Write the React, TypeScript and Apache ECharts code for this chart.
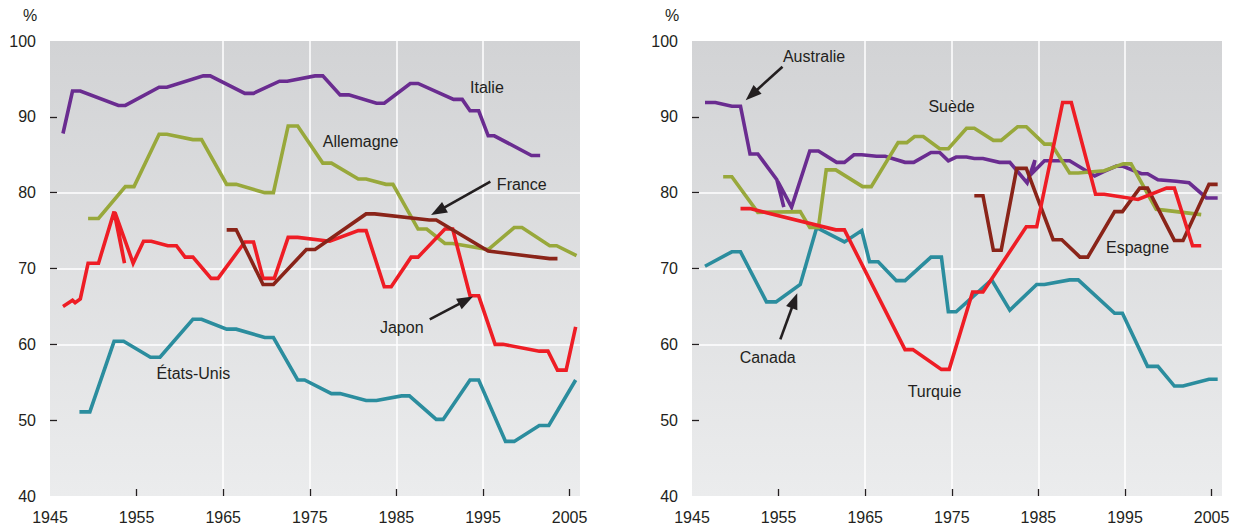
import React, { useEffect, useRef } from "react";
import * as echarts from "echarts";

// ---------- data ----------
const xLabelValues = [1945, 1955, 1965, 1975, 1985, 1995, 2005];
const xTickValues = [1955, 1965, 1975, 1985, 1995, 2005];
const yTickValues = [50, 60, 70, 80, 90];

// left panel
const italie = [[1946.5,87.8],[1947.6,93.4],[1948.5,93.4],[1952.9,91.5],[1953.7,91.5],[1957.6,93.9],[1958.5,93.9],[1962.7,95.4],[1963.5,95.4],[1967.5,93.1],[1968.5,93.1],[1971.5,94.7],[1972.4,94.7],[1975.6,95.4],[1976.5,95.4],[1978.5,92.9],[1979.5,92.9],[1982.7,91.8],[1983.6,91.8],[1986.6,94.4],[1987.5,94.4],[1991.6,92.3],[1992.6,92.3],[1993.5,90.8],[1994.5,90.8],[1995.6,87.5],[1996.3,87.5],[2000.6,84.9],[2001.6,84.9]];
const allemagne = [[1949.4,76.6],[1950.6,76.6],[1953.7,80.8],[1954.7,80.8],[1957.6,87.7],[1958.5,87.7],[1961.5,87.0],[1962.5,87.0],[1965.4,81.1],[1966.5,81.1],[1969.8,80.0],[1970.8,80.0],[1972.5,88.8],[1973.6,88.8],[1976.5,83.9],[1977.5,83.9],[1980.6,81.8],[1981.5,81.8],[1983.8,81.1],[1984.6,81.1],[1987.5,75.2],[1988.5,75.2],[1990.6,73.3],[1991.5,73.3],[1995.6,72.5],[1998.6,75.4],[1999.5,75.4],[2002.7,73.0],[2003.5,73.0],[2005.8,71.7]];
const france = [[1965.4,75.1],[1966.5,75.1],[1969.6,67.9],[1970.8,67.9],[1974.6,72.5],[1975.6,72.5],[1981.5,77.2],[1982.5,77.2],[1988.8,76.4],[1989.6,76.4],[1995.6,72.3],[2002.7,71.3],[2003.6,71.3]];
const japon = [[1946.5,65.0],[1947.6,65.8],[1947.9,65.5],[1948.5,66.0],[1949.4,70.7],[1950.6,70.7],[1952.4,77.5],[1953.6,70.7],[1952.5,77.4],[1954.6,70.7],[1955.8,73.6],[1956.7,73.6],[1958.6,73.0],[1959.6,73.0],[1960.6,71.5],[1961.5,71.5],[1963.6,68.7],[1964.4,68.7],[1967.5,73.5],[1968.5,73.5],[1969.6,68.7],[1970.9,68.7],[1972.5,74.1],[1973.6,74.1],[1977.3,73.6],[1980.6,75.0],[1981.5,75.0],[1983.6,67.6],[1984.4,67.6],[1986.7,71.5],[1987.5,71.5],[1990.6,75.2],[1991.5,75.2],[1993.5,66.4],[1994.5,66.4],[1996.4,60.0],[1997.3,60.0],[2001.5,59.1],[2002.5,59.1],[2003.6,56.6],[2004.6,56.6],[2005.7,62.3]];
const etatsUnis = [[1948.4,51.1],[1949.6,51.1],[1952.4,60.4],[1953.5,60.4],[1956.6,58.3],[1957.7,58.3],[1961.5,63.3],[1962.5,63.3],[1965.4,62.0],[1966.5,62.0],[1969.8,60.9],[1970.8,60.9],[1973.6,55.3],[1974.4,55.3],[1977.5,53.5],[1978.5,53.5],[1981.5,52.6],[1982.7,52.6],[1985.6,53.2],[1986.5,53.2],[1989.6,50.1],[1990.4,50.1],[1993.5,55.3],[1994.5,55.3],[1997.6,47.2],[1998.6,47.2],[2001.5,49.3],[2002.6,49.3],[2005.7,55.3]];

// right panel
const australie = [[1946.5,91.9],[1947.7,91.9],[1949.6,91.4],[1950.6,91.4],[1951.7,85.1],[1952.6,85.1],[1954.8,81.7],[1955.6,78.1],[1954.9,81.5],[1956.5,78.1],[1958.6,85.5],[1959.6,85.5],[1961.7,84.0],[1962.6,84.0],[1963.7,85.0],[1964.6,85.0],[1966.3,84.8],[1967.3,84.8],[1969.6,84.0],[1970.6,84.0],[1972.6,85.3],[1973.6,85.3],[1974.6,84.2],[1975.5,84.7],[1976.7,84.7],[1977.6,84.5],[1978.6,84.5],[1980.5,84.0],[1981.7,84.0],[1983.7,81.3],[1984.6,84.3],[1984.3,82.6],[1985.7,84.2],[1988.6,84.2],[1991.5,82.2],[1992.6,82.8],[1994.0,83.5],[1994.7,83.5],[1996.9,82.5],[1997.6,82.5],[1998.8,81.7],[2000.9,81.5],[2002.4,81.3],[2004.4,79.3],[2005.7,79.3]];
const suede = [[1948.6,82.1],[1949.6,82.1],[1952.6,77.4],[1957.5,77.5],[1958.6,75.4],[1959.6,75.4],[1960.5,83.0],[1961.6,83.0],[1964.7,80.8],[1965.7,80.8],[1968.8,86.6],[1969.8,86.6],[1970.7,87.4],[1971.7,87.4],[1973.6,85.8],[1974.6,85.8],[1976.7,88.5],[1977.6,88.5],[1979.8,86.9],[1980.7,86.9],[1982.6,88.7],[1983.6,88.7],[1985.7,86.4],[1986.5,86.4],[1988.6,82.6],[1989.6,82.6],[1992.6,82.9],[1993.8,83.4],[1994.8,83.8],[1995.7,83.8],[1998.6,77.8],[1999.5,77.7],[2003.8,77.1]];
const espagne = [[1977.6,79.6],[1978.6,79.6],[1979.8,72.4],[1980.7,72.4],[1982.5,83.2],[1983.6,83.2],[1986.7,73.8],[1987.7,73.8],[1989.8,71.5],[1990.7,71.5],[1993.8,77.5],[1994.7,77.5],[1996.7,80.6],[1997.6,80.6],[2000.7,73.7],[2001.7,73.7],[2004.7,81.1],[2005.7,81.1]];
const turquie = [[1950.6,77.9],[1951.7,77.9],[1961.6,75.1],[1962.6,75.1],[1969.6,59.3],[1970.5,59.3],[1973.8,56.7],[1974.7,56.7],[1977.4,66.9],[1978.6,66.9],[1983.6,75.5],[1984.8,75.5],[1987.8,91.9],[1988.8,91.9],[1991.6,79.8],[1992.6,79.8],[1996.5,79.1],[1999.8,80.6],[2000.7,80.6],[2002.8,73.0],[2003.8,73.0]];
const canada = [[1946.5,70.3],[1949.6,72.2],[1950.6,72.2],[1953.6,65.6],[1954.7,65.6],[1957.5,67.9],[1959.4,75.4],[1962.6,73.5],[1964.6,75.0],[1965.5,70.9],[1966.5,70.9],[1968.6,68.4],[1969.6,68.4],[1972.6,71.5],[1973.8,71.5],[1974.6,64.3],[1975.5,64.3],[1979.6,68.5],[1981.7,64.5],[1984.8,67.9],[1985.7,67.9],[1988.6,68.5],[1989.6,68.5],[1993.8,64.1],[1994.7,64.1],[1997.6,57.1],[1998.8,57.1],[2000.7,54.5],[2001.7,54.5],[2004.7,55.4],[2005.7,55.4]];

// ---------- styles ----------
const PURPLE = "#6a2c90";
const OLIVE = "#98a83b";
const BROWN = "#8a2419";
const RED = "#ee1d25";
const TEAL = "#2b8d9e";
const TEXT = "#231f20";
const FONT = "'Liberation Sans', Arial, sans-serif";

const panels = [
  [
    { name: "Italie", data: italie, color: PURPLE },
    { name: "Allemagne", data: allemagne, color: OLIVE },
    { name: "États-Unis", data: etatsUnis, color: TEAL },
    { name: "Japon", data: japon, color: RED },
    { name: "France", data: france, color: BROWN },
  ],
  [
    { name: "Canada", data: canada, color: TEAL },
    { name: "Australie", data: australie, color: PURPLE },
    { name: "Suède", data: suede, color: OLIVE },
    { name: "Espagne", data: espagne, color: BROWN },
    { name: "Turquie", data: turquie, color: RED },
  ],
];

// annotation anchors in data coordinates
const labels = [
  [
    { text: "Italie", at: [1993.5, 93.9] },
    { text: "Allemagne", at: [1976.5, 86.8] },
    { text: "France", at: [1996.6, 81.1] },
    { text: "Japon", at: [1983.1, 62.2] },
    { text: "États-Unis", at: [1957.3, 56.2] },
  ],
  [
    { text: "Australie", at: [1955.5, 97.9] },
    { text: "Suède", at: [1972.3, 91.3] },
    { text: "Espagne", at: [1992.8, 72.8] },
    { text: "Canada", at: [1950.5, 58.3] },
    { text: "Turquie", at: [1969.9, 53.8] },
  ],
];
const arrows = [
  [
    { from: [1995.85, 81.45], to: [1989.0, 77.05] },
    { from: [1988.85, 63.3], to: [1993.85, 66.3] },
  ],
  [
    { from: [1955.45, 96.6], to: [1951.2, 92.2] },
    { from: [1955.2, 60.65], to: [1957.15, 66.75] },
  ],
];

const GRID_LEFT = [50, 692];

export default function App() {
  const ref = useRef<HTMLDivElement>(null);
  useEffect(() => {
    if (!ref.current) return;
    const chart = echarts.init(ref.current, undefined, { renderer: "svg" });
    const bg = new echarts.graphic.LinearGradient(0, 0, 0, 1, [
      { offset: 0, color: "#d2d3d5" },
      { offset: 1, color: "#ebeced" },
    ]);
    const grids = GRID_LEFT.map((left) => ({
      left,
      top: 41,
      width: 530,
      height: 455,
      show: true,
      backgroundColor: bg,
      borderWidth: 0,
      containLabel: false,
      outerBoundsMode: "none",
    }));
    const xAxes = [0, 1].map((i) => ({
      type: "value",
      gridIndex: i,
      min: 1945,
      max: 2006.2,
      interval: 10,
      axisLine: { show: false },
      axisTick: {
        show: true,
        inside: true,
        length: 7,
        customValues: xTickValues,
        lineStyle: { color: TEXT, width: 1.3 },
      },
      axisLabel: {
        customValues: xLabelValues,
        fontSize: 16,
        fontFamily: FONT,
        color: TEXT,
        margin: 13,
        formatter: (v: number) => String(v),
      },
      splitLine: {
        show: true,
        showMinLine: false,
        showMaxLine: false,
        lineStyle: { color: "#ffffff", width: 1.5 },
      },
    }));
    const yAxes = [0, 1].map((i) => ({
      type: "value",
      gridIndex: i,
      min: 40,
      max: 100,
      interval: 10,
      axisLine: { show: false },
      axisTick: {
        show: true,
        inside: true,
        length: 7,
        customValues: yTickValues,
        lineStyle: { color: TEXT, width: 1.3 },
      },
      axisLabel: { fontSize: 16, fontFamily: FONT, color: TEXT, margin: 14 },
      splitLine: {
        show: true,
        showMinLine: false,
        showMaxLine: false,
        lineStyle: { color: "#ffffff", width: 1.5 },
      },
    }));
    const series: any[] = [];
    panels.forEach((list, i) =>
      list.forEach((s) =>
        series.push({
          type: "line",
          name: s.name,
          xAxisIndex: i,
          yAxisIndex: i,
          data: s.data,
          symbol: "none",
          lineStyle: { color: s.color, width: 3.6, join: "miter" },
          itemStyle: { color: s.color },
          z: 3,
        })
      )
    );
    chart.setOption({
      animation: false,
      backgroundColor: "#ffffff",
      grid: grids,
      xAxis: xAxes,
      yAxis: yAxes,
      series,
    });

    const graphic: any[] = [];
    [0, 1].forEach((i) => {
      graphic.push({
        type: "text",
        x: GRID_LEFT[i] - 20,
        y: 15,
        style: {
          text: "%",
          fontSize: 16,
          fontFamily: FONT,
          fill: TEXT,
          align: "center",
          verticalAlign: "middle",
        },
        z: 100,
      });
      labels[i].forEach((l) => {
        const p = chart.convertToPixel({ gridIndex: i }, l.at) as number[];
        graphic.push({
          type: "text",
          x: p[0],
          y: p[1],
          style: {
            text: l.text,
            fontSize: 16,
            fontFamily: FONT,
            fill: TEXT,
            align: "left",
            verticalAlign: "middle",
          },
          z: 100,
        });
      });
      arrows[i].forEach((a) => {
        const p0 = chart.convertToPixel({ gridIndex: i }, a.from) as number[];
        const p1 = chart.convertToPixel({ gridIndex: i }, a.to) as number[];
        const dx = p1[0] - p0[0];
        const dy = p1[1] - p0[1];
        const len = Math.hypot(dx, dy);
        const ux = dx / len;
        const uy = dy / len;
        const L = 16;
        const W = 6;
        const bx = p1[0] - ux * L;
        const by = p1[1] - uy * L;
        graphic.push({
          type: "line",
          shape: { x1: p0[0], y1: p0[1], x2: bx + ux * 2, y2: by + uy * 2 },
          style: { stroke: TEXT, lineWidth: 2.6 },
          z: 100,
        });
        graphic.push({
          type: "polygon",
          shape: {
            points: [
              [p1[0], p1[1]],
              [bx - uy * W, by + ux * W],
              [bx + uy * W, by - ux * W],
            ],
          },
          style: { fill: TEXT },
          z: 100,
        });
      });
    });
    chart.setOption({ graphic });

    return () => chart.dispose();
  }, []);
  return (
    <div
      ref={ref}
      style={{ position: "fixed", left: 0, top: 0, width: 1234, height: 528 }}
    />
  );
}
